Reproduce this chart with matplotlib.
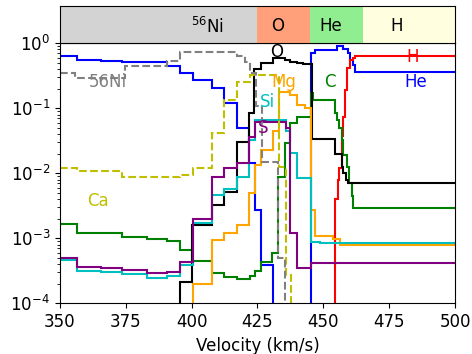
import numpy as np
import matplotlib
matplotlib.use('Agg')
import matplotlib.pyplot as plt

nd = 1e-8  # element absent in that zone

# zone edges (km/s) and mass fractions for each element
he_edges = [350, 356.6, 365.4, 373.7, 390.8, 395.7, 400.5, 407.8, 412.4, 417.3, 421.9, 424.2, 426.5,
            431.0, 445.4, 447.0, 455.3, 457.6, 459.5, 460.2, 461.2, 462.1, 500]
he_vals = [0.64, 0.56, 0.535, 0.51, 0.44, 0.345, 0.27, 0.205, 0.12, 0.05, 0.0145, 0.0027, 3.9e-4,
           nd, 0.70, 0.79, 0.89, 0.82, 0.71, 0.55, 0.46, 0.358]

h_edges = [350, 454.5, 455.5, 456.1, 457.0, 457.6, 458.3, 459.1, 460.2, 461.4, 462.1, 500]
h_vals = [nd, 0.004, 0.008, 0.012, 0.037, 0.074, 0.19, 0.41, 0.55, 0.60, 0.64]

c_edges = [350, 356.6, 373.7, 383.2, 390.8, 395.7, 400.3, 407.8, 412.4, 417.3, 422.2, 424.2, 426.5,
           430.6, 432.9, 435.5, 437.4, 440.1, 445.4, 446.0, 454.5, 455.3, 456.1, 457.0, 457.6,
           458.9, 459.9, 460.8, 461.4, 500]
c_vals = [0.00164, 0.0012, 0.00105, 0.00098, 0.00091, 0.00066, 0.00045, 0.00029, 0.00025, 0.00024,
          0.00026, 0.00032, 0.00044, 0.00059, 0.0088, 0.029, 0.059, 0.074, 0.17, 0.134, 0.084,
          0.066, 0.049, 0.033, 0.019, 0.0125, 0.0071, 0.0044, 0.0029]

o_edges = [350, 395.7, 400.3, 407.8, 412.4, 417.3, 421.9, 423.8, 426.5, 431.0, 435.5, 437.4, 440.1,
           442.4, 445.6, 454.5, 457.0, 457.6, 458.7, 459.5, 500]
o_vals = [nd, 2.1e-4, 1.6e-3, 3.2e-3, 5.2e-3, 0.03, 0.084, 0.40, 0.50, 0.60, 0.56, 0.52, 0.50,
          0.48, 0.034, 0.02, 0.0125, 0.010, 0.0079, 0.0070]

mg_edges = [350, 400.5, 407.8, 412.4, 417.3, 421.9, 424.2, 426.5, 431.0, 433.3, 437.4, 440.1, 443.1,
            445.4, 446.9, 453.7, 456.4, 500]
mg_vals = [nd, 2.0e-4, 9.4e-4, 1.2e-3, 1.6e-3, 4.9e-3, 0.0134, 0.023, 0.045, 0.18, 0.16, 0.112,
           0.10, 0.0027, 1.1e-3, 9.6e-4, 7.9e-4]

si_edges = [350, 356.6, 365.4, 373.7, 383.2, 390.8, 395.7, 400.5, 407.8, 412.4, 417.3, 421.9, 424.2,
            436.0, 437.4, 440.1, 445.4, 448.8, 500]
si_vals = [4.6e-4, 3.2e-4, 3.0e-4, 2.8e-4, 2.45e-4, 2.6e-4, 3.9e-4, 1.7e-3, 4.6e-3, 5.8e-3, 8.9e-3,
           0.033, 0.066, 0.045, 0.0205, 0.0085, 8.9e-4, 8.4e-4]

s_edges = [350, 356.6, 365.4, 373.7, 383.2, 390.8, 395.7, 400.5, 407.8, 412.4, 417.3, 421.9, 424.2,
           436.0, 437.4, 440.1, 445.4, 500]
s_vals = [5.0e-4, 3.6e-4, 3.5e-4, 3.3e-4, 2.9e-4, 3.0e-4, 4.4e-4, 1.96e-3, 8.9e-3, 0.012, 0.0146,
          0.036, 0.062, 0.049, 1.2e-3, 3.5e-4, 4.2e-4]

ca_edges = [350, 356.6, 373.7, 395.7, 400.5, 407.8, 412.4, 417.3, 422.2, 433.0, 435.8, 437.9, 500]
ca_vals = [0.012, 0.0108, 0.0088, 0.0093, 0.0121, 0.041, 0.134, 0.25, 0.32, 0.0126, 2.7e-4, nd]

ni_edges = [350, 355.9, 374.8, 390.8, 395.7, 417.3, 420.3, 422.2, 424.6, 426.9, 432.9, 435.5, 500]
ni_vals = [0.345, 0.29, 0.45, 0.54, 0.72, 0.64, 0.52, 0.35, 0.11, 0.015, 5e-4, nd]

# composition bands on top
band_edges = [350, 425, 445, 465, 500]
band_names = ['$^{56}$Ni', 'O', 'He', 'H']
band_label_x = [406, 432.5, 453, 478]
band_colors = ['lightgray', 'lightsalmon', 'lightgreen', 'lightyellow']

fig = plt.figure(figsize=(4.72, 3.54), dpi=100)
ax = fig.add_axes([0.127, 0.143, 0.837, 0.735])
axt = fig.add_axes([0.127, 0.878, 0.837, 0.105])

lines = [
    (he_edges, he_vals, 'b', '-', 'He', 485, 0.25),
    (h_edges, h_vals, 'r', '-', 'H', 484, 0.62),
    (c_edges, c_vals, 'g', '-', 'C', 452.6, 0.25),
    (o_edges, o_vals, 'k', '-', 'O', 432.4, 0.74),
    (mg_edges, mg_vals, 'orange', '-', 'Mg', 435, 0.25),
    (si_edges, si_vals, 'c', '-', 'Si', 428.6, 0.126),
    (s_edges, s_vals, 'purple', '-', 'S', 427.3, 0.049),
    (ca_edges, ca_vals, 'y', '--', 'Ca', 364.3, 0.0037),
    (ni_edges, ni_vals, 'gray', '--', '56Ni', 368, 0.25),
]
for edges, vals, col, ls, name, tx, ty in lines:
    ax.stairs(vals, edges, color=col, linestyle=ls, lw=1.5, baseline=None)
    ax.text(tx, ty, name, color=col, fontsize=12, ha='center', va='center')

ax.set_yscale('log')
ax.set_xlim(350, 500)
ax.set_ylim(1e-4, 1)
ax.set_xticks([350, 375, 400, 425, 450, 475, 500])
ax.tick_params(labelsize=12)
ax.set_xlabel('Velocity (km/s)', fontsize=12)

for i in range(len(band_names)):
    axt.axvspan(band_edges[i], band_edges[i + 1], color=band_colors[i], lw=0)
    axt.text(band_label_x[i], 0.45, band_names[i], fontsize=12, ha='center', va='center')
axt.set_xlim(350, 500)
axt.set_ylim(0, 1)
axt.set_xticks([])
axt.set_yticks([])

plt.savefig('out.png', dpi=100)
